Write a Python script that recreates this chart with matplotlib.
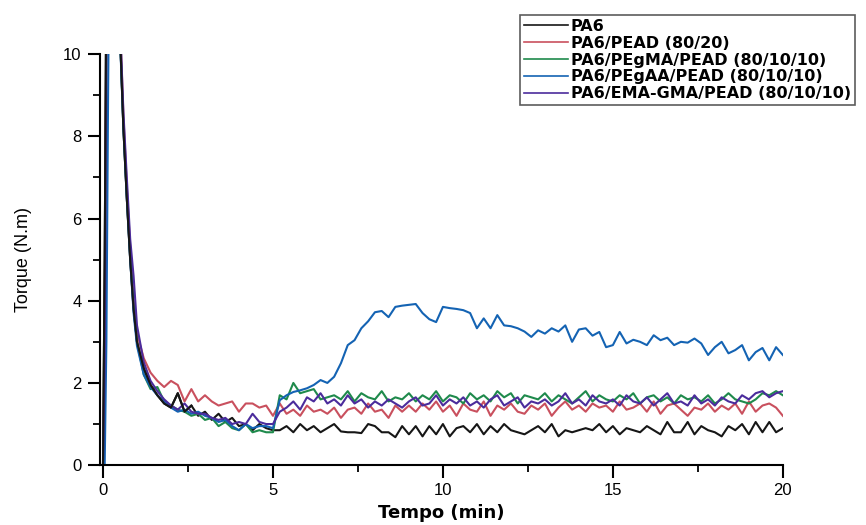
import numpy as np
import matplotlib
matplotlib.use('Agg')
import matplotlib.pyplot as plt
from matplotlib.ticker import MultipleLocator

# Tempo (min): início do ensaio + pontos a cada 0,2 min de 1,0 a 20,0
tempo_inicio = [0.0, 0.05, 0.1, 0.15, 0.2, 0.35, 0.5, 0.6, 0.7, 0.8, 0.9]
tempo = tempo_inicio + [round(1.0 + 0.2 * i, 1) for i in range(96)]

# Torque (N.m)
pa6 = [0.0, 5.0, 12.0, 14.0, 14.0, 14.0, 10.5, 8.2, 6.5, 5.0, 3.8,
       3.0, 2.35, 1.95, 1.7, 1.5, 1.4, 1.75, 1.3, 1.45, 1.2,
       1.3, 1.1, 1.25, 1.05, 1.15, 0.95, 1.0, 0.85, 1.0, 0.9,
       0.85, 0.85, 0.95, 0.8, 1.0, 0.85, 0.95, 0.8, 0.9, 1.0,
       0.82, 0.8, 0.8, 0.78, 1.0, 0.95, 0.8, 0.8, 0.68, 0.95,
       0.75, 0.95, 0.7, 0.95, 0.75, 1.0, 0.7, 0.9, 0.95, 0.8,
       1.0, 0.75, 0.95, 0.8, 1.0, 0.85, 0.8, 0.75, 0.85, 0.95,
       0.8, 1.0, 0.7, 0.85, 0.8, 0.85, 0.9, 0.85, 1.0, 0.8,
       0.95, 0.75, 0.9, 0.85, 0.8, 0.95, 0.85, 0.75, 1.05, 0.8,
       0.8, 1.05, 0.75, 0.95, 0.85, 0.8, 0.7, 0.95, 0.85, 1.0,
       0.75, 1.05, 0.8, 1.05, 0.8, 0.9]

pead = [0.0, 3.0, 11.0, 14.0, 14.0, 14.0, 10.8, 8.5, 6.8, 5.3, 4.0,
        3.2, 2.6, 2.25, 2.05, 1.9, 2.05, 1.95, 1.55, 1.85, 1.55,
        1.7, 1.55, 1.45, 1.5, 1.55, 1.3, 1.5, 1.5, 1.4, 1.45,
        1.2, 1.5, 1.25, 1.35, 1.2, 1.45, 1.3, 1.35, 1.25, 1.4,
        1.15, 1.35, 1.4, 1.25, 1.5, 1.3, 1.35, 1.15, 1.45, 1.3,
        1.45, 1.3, 1.5, 1.35, 1.55, 1.3, 1.45, 1.2, 1.5, 1.35,
        1.3, 1.55, 1.2, 1.45, 1.35, 1.5, 1.3, 1.25, 1.45, 1.35,
        1.5, 1.2, 1.4, 1.55, 1.35, 1.45, 1.3, 1.5, 1.4, 1.45,
        1.3, 1.55, 1.35, 1.4, 1.5, 1.3, 1.55, 1.25, 1.45, 1.5,
        1.35, 1.2, 1.4, 1.35, 1.5, 1.3, 1.45, 1.35, 1.5, 1.25,
        1.55, 1.3, 1.45, 1.5, 1.4, 1.2]

pegma = [0.0, 2.0, 10.0, 14.0, 14.0, 14.0, 10.5, 8.3, 6.6, 5.1, 3.9,
         3.0, 2.2, 1.85, 1.9, 1.55, 1.45, 1.35, 1.3, 1.2, 1.25,
         1.1, 1.15, 0.95, 1.05, 0.9, 0.85, 1.0, 0.8, 0.85, 0.8,
         0.8, 1.7, 1.6, 2.0, 1.75, 1.8, 1.85, 1.6, 1.65, 1.7,
         1.6, 1.8, 1.55, 1.75, 1.65, 1.6, 1.8, 1.55, 1.65, 1.6,
         1.75, 1.55, 1.7, 1.6, 1.8, 1.55, 1.7, 1.65, 1.5, 1.75,
         1.6, 1.7, 1.55, 1.8, 1.65, 1.75, 1.5, 1.7, 1.65, 1.6,
         1.75, 1.55, 1.7, 1.6, 1.5, 1.65, 1.8, 1.55, 1.7, 1.6,
         1.55, 1.7, 1.6, 1.75, 1.5, 1.65, 1.7, 1.55, 1.65, 1.5,
         1.7, 1.6, 1.65, 1.55, 1.7, 1.5, 1.6, 1.75, 1.6, 1.55,
         1.5, 1.6, 1.75, 1.7, 1.8, 1.7]

pegaa = [0.0, 0.0, 3.0, 9.0, 14.0, 14.0, 10.4, 8.2, 6.5, 5.0, 3.7,
         2.9, 2.2, 1.9, 1.7, 1.55, 1.4, 1.3, 1.35, 1.25, 1.3,
         1.2, 1.15, 1.05, 1.1, 0.95, 0.85, 1.0, 0.9, 0.95, 0.95,
         0.9, 1.58, 1.7, 1.78, 1.82, 1.87, 1.95, 2.07, 2.0, 2.15,
         2.48, 2.92, 3.04, 3.33, 3.5, 3.72, 3.75, 3.6, 3.85, 3.88,
         3.9, 3.92, 3.7, 3.55, 3.48, 3.85, 3.82, 3.8, 3.77, 3.7,
         3.33, 3.57, 3.33, 3.65, 3.4, 3.38, 3.33, 3.25, 3.12, 3.28,
         3.2, 3.33, 3.25, 3.4, 3.0, 3.3, 3.33, 3.15, 3.24, 2.87,
         2.92, 3.24, 2.96, 3.05, 3.0, 2.92, 3.16, 3.04, 3.1, 2.92,
         3.0, 2.98, 3.08, 2.96, 2.68, 2.87, 3.0, 2.72, 2.8, 2.92,
         2.55, 2.75, 2.85, 2.55, 2.87, 2.68]

emagma = [0.0, 2.5, 10.5, 14.0, 14.0, 14.0, 10.8, 8.6, 7.0, 5.5, 4.6,
          3.4, 2.5, 2.05, 1.8, 1.6, 1.45, 1.35, 1.5, 1.3, 1.25,
          1.25, 1.15, 1.1, 1.15, 1.0, 1.05, 1.0, 1.25, 1.05, 1.0,
          1.0, 1.3, 1.4, 1.55, 1.35, 1.65, 1.55, 1.75, 1.5, 1.6,
          1.45, 1.7, 1.5, 1.6, 1.4, 1.55, 1.45, 1.6, 1.5, 1.4,
          1.55, 1.65, 1.45, 1.5, 1.7, 1.45, 1.6, 1.5, 1.65, 1.45,
          1.55, 1.4, 1.6, 1.7, 1.45, 1.55, 1.65, 1.4, 1.55, 1.5,
          1.6, 1.45, 1.55, 1.75, 1.5, 1.6, 1.45, 1.7, 1.55, 1.5,
          1.6, 1.45, 1.7, 1.55, 1.5, 1.65, 1.45, 1.6, 1.75, 1.5,
          1.55, 1.45, 1.7, 1.5, 1.6, 1.45, 1.65, 1.55, 1.5, 1.7,
          1.6, 1.75, 1.8, 1.65, 1.75, 1.8]

series = [
    ('PA6', pa6, '#161616'),
    ('PA6/PEAD (80/20)', pead, '#c9505e'),
    ('PA6/PEgMA/PEAD (80/10/10)', pegma, '#1f8a4c'),
    ('PA6/PEgAA/PEAD (80/10/10)', pegaa, '#1463b3'),
    ('PA6/EMA-GMA/PEAD (80/10/10)', emagma, '#4b2c9c'),
]

fig = plt.figure(figsize=(8.66, 5.25), dpi=100)
ax = fig.add_axes([0.115, 0.114, 0.789, 0.783])

handles = []
for nome, valores, cor in series:
    h, = ax.plot(tempo, valores, color=cor, lw=1.5, label=nome)
    handles.append(h)
# PA6 de novo por cima no início, como no original
ax.plot(tempo[:20], pa6[:20], color='#161616', lw=1.5)

ax.set_xlim(-0.1, 20)
ax.set_ylim(0, 10)
ax.xaxis.set_major_locator(MultipleLocator(5))
ax.xaxis.set_minor_locator(MultipleLocator(2.5))
ax.yaxis.set_major_locator(MultipleLocator(2))
ax.yaxis.set_minor_locator(MultipleLocator(1))
ax.spines['top'].set_visible(False)
ax.spines['right'].set_visible(False)
for s in ['left', 'bottom']:
    ax.spines[s].set_linewidth(1.5)
ax.tick_params(which='major', direction='out', length=9, width=1.5,
               labelsize=12, pad=4)
ax.tick_params(which='minor', direction='out', length=5, width=1.3)
for lab in ax.get_xticklabels() + ax.get_yticklabels():
    lab.set_family('Liberation Sans')

ax.set_xlabel('Tempo (min)', fontsize=13, family='DejaVu Sans',
              fontweight='bold', labelpad=4)
ax.set_ylabel('Torque (N.m)', fontsize=13, family='Liberation Sans',
              labelpad=22)

leg = fig.legend(handles=handles, loc='upper left',
                 bbox_to_anchor=(0.6, 0.972), frameon=True, fancybox=False,
                 edgecolor='#333333', handlelength=2.8, handletextpad=0.15,
                 labelspacing=0.12, borderpad=0.25, borderaxespad=0,
                 prop={'family': 'DejaVu Sans', 'weight': 'bold', 'size': 11.5})
leg.get_frame().set_linewidth(1.2)
for l in leg.get_lines():
    l.set_linewidth(1.2)

fig.savefig('out.png', dpi=100)
